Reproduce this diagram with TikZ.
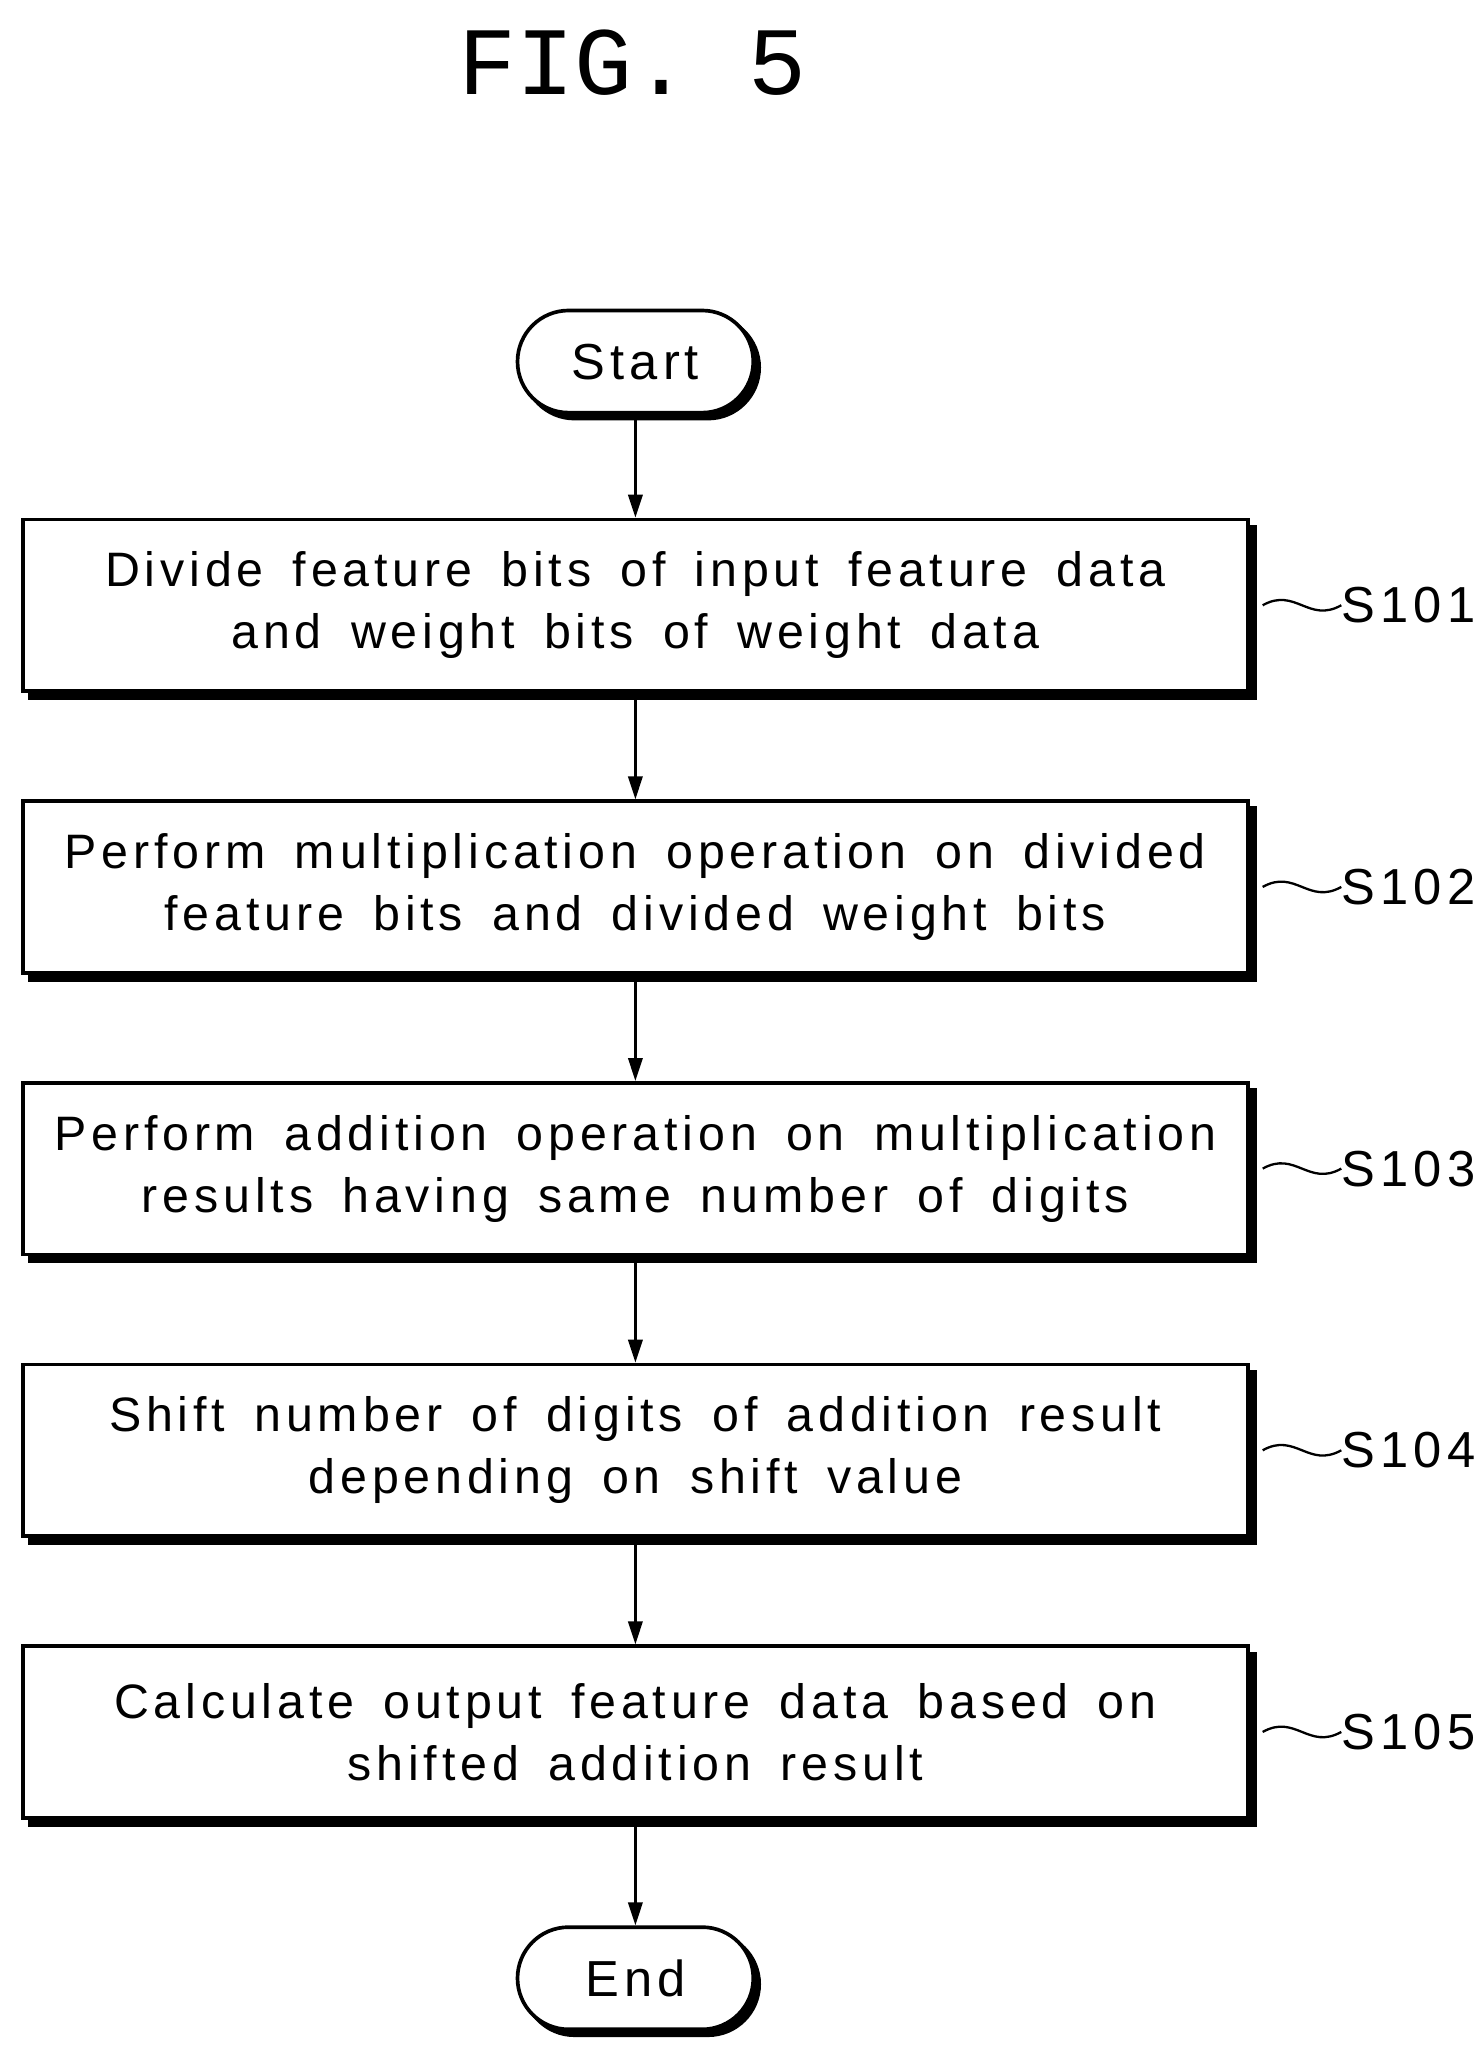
\documentclass[tikz,border=0pt]{standalone}
\usepackage{fontspec}
\setsansfont{Liberation Sans}[LetterSpace=10,WordSpace=1.6]
\setmonofont{Liberation Mono}
\usetikzlibrary{positioning,shadows,arrows.meta,calc}
\begin{document}
\begin{tikzpicture}[x=0.02cm,y=-0.02cm,
    stepbox/.style={draw,line width=1.6pt,fill=white,minimum width=18.7cm,minimum height=2.62cm,
        align=center,font=\sffamily\fontsize{21}{27}\selectfont,
        copy shadow={shadow xshift=1.1mm,shadow yshift=-1.1mm,fill=black}},
    term/.style={draw,line width=1.6pt,fill=white,rounded corners=0.78cm,minimum width=3.6cm,
        minimum height=1.56cm,font=\sffamily\fontsize{22}{26}\selectfont,
        copy shadow={shadow xshift=0.9mm,shadow yshift=-0.9mm,fill=black}},
    flow/.style={-{Triangle[length=3.5mm,width=2.2mm]},line width=1pt},
    tag/.style={font=\sffamily\fontsize{22}{26}\selectfont,anchor=west,inner sep=0pt}]
\useasboundingbox (0,0) rectangle (1130,1577);
\node[font=\ttfamily\fontsize{42}{44}\selectfont] (title) at (483,48) {FIG. 5};
\node[term] (start) at (485,276) {Start};
% process steps
\node[stepbox] (s1) at (485,462) {Divide feature bits of input feature data\\and weight bits of weight data};
\node[stepbox] (s2) at (485,677) {Perform multiplication operation on divided\\feature bits and divided weight bits};
\node[stepbox] (s3) at (485,892) {Perform addition operation on multiplication\\results having same number of digits};
\node[stepbox] (s4) at (485,1107) {Shift number of digits of addition result\\depending on shift value};
\node[stepbox] (s5) at (485,1322) {Calculate output feature data based on\\shifted addition result};
\node[term] (end) at (485,1510) {End};
\draw[flow] (start) -- (s1);
\foreach \a/\b in {s1/s2,s2/s3,s3/s4,s4/s5,s5/end}
    \draw[flow] (\a) -- (\b);
% step labels
\foreach \s/\t in {s1/S101,s2/S102,s3/S103,s4/S104,s5/S105}{
    \node[tag] (l\s) at ($(\s.east)+(70,0)$) {\t};
    \draw[line width=1pt] ([xshift=2mm]\s.east) .. controls +(25,-14) and +(-25,14) .. (l\s.west);
}
\end{tikzpicture}
\end{document}
